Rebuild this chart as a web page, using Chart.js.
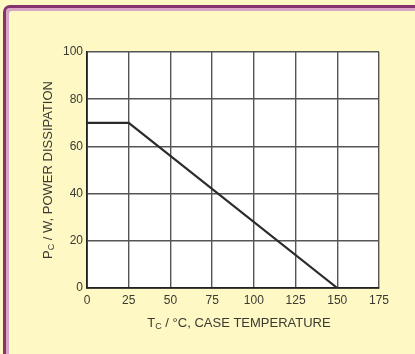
<!DOCTYPE html>
<html>
<head>
<meta charset="utf-8">
<script src="https://cdn.jsdelivr.net/npm/chart.js@4.4.0/dist/chart.umd.min.js"></script>
<style>
  html, body { margin: 0; padding: 0; }
  body { width: 415px; height: 354px; overflow: hidden; background: #fdf8c4; position: relative; }
  #frame {
    position: absolute; left: 3px; top: 5px; width: 430px; height: 370px;
    border: 3px solid #84336f; border-radius: 7px;
    box-shadow: inset 2px 2px 0 1px #d9a6c6;
  }
  #chart { position: absolute; left: 0; top: 0; }
</style>
</head>
<body>
<div id="frame"></div>
<canvas id="chart" width="415" height="354"></canvas>
<script>
// derating curve: case temperature (°C) vs allowed power (W)
var caseTemp = [0, 25, 150];
var powerW = [70, 70, 0];
var xTicks = [0, 25, 50, 75, 100, 125, 150, 175];
var yTicks = [0, 20, 40, 60, 80, 100];

var xTitle = ["T", "C", " / °C, CASE TEMPERATURE"];
var yTitle = ["P", "C", " / W, POWER DISSIPATION"];

var points = [];
for (var i = 0; i < caseTemp.length; i++) {
  points.push({ x: caseTemp[i], y: powerW[i] });
}

var FONT = '"Liberation Sans", Arial, sans-serif';
var TEXT = "#3a3a32";

// text with a subscript second part, drawn centred on (cx, cy)
function subText(ctx, parts, cx, cy) {
  ctx.font = "13px " + FONT;
  var w1 = ctx.measureText(parts[0]).width;
  var w3 = ctx.measureText(parts[2]).width;
  ctx.font = "9px " + FONT;
  var w2 = ctx.measureText(parts[1]).width;
  var x = cx - (w1 + w2 + w3) / 2;
  ctx.textBaseline = "middle";
  ctx.textAlign = "left";
  ctx.font = "13px " + FONT;
  ctx.fillText(parts[0], x, cy);
  ctx.font = "9px " + FONT;
  ctx.fillText(parts[1], x + w1, cy + 4);
  ctx.font = "13px " + FONT;
  ctx.fillText(parts[2], x + w1 + w2, cy);
}

var plotBg = {
  id: "plotBg",
  beforeDraw: function (chart) {
    var a = chart.chartArea, ctx = chart.ctx;
    ctx.save();
    ctx.fillStyle = "#ffffff";
    ctx.fillRect(a.left, a.top, a.right - a.left, a.bottom - a.top);
    ctx.restore();
  }
};

var axisTitles = {
  id: "axisTitles",
  afterDraw: function (chart) {
    var a = chart.chartArea, ctx = chart.ctx;
    ctx.save();
    ctx.fillStyle = TEXT;
    subText(ctx, xTitle, 239, 323);
    ctx.translate(48, (a.top + a.bottom) / 2);
    ctx.rotate(-Math.PI / 2);
    subText(ctx, yTitle, 0, 0);
    ctx.restore();
  }
};

new Chart(document.getElementById("chart"), {
  type: "scatter",
  data: {
    datasets: [{
      data: points,
      showLine: true,
      borderColor: "#2b2b2b",
      borderWidth: 2.2,
      pointRadius: 0,
      fill: false
    }]
  },
  options: {
    responsive: false,
    animation: false,
    layout: { padding: { left: 0, right: 36, top: 52, bottom: 0 } },
    plugins: { legend: { display: false }, tooltip: { enabled: false } },
    scales: {
      x: {
        type: "linear",
        min: 0, max: 175,
        afterBuildTicks: function (s) { s.ticks = xTicks.map(function (v) { return { value: v }; }); },
        afterFit: function (s) { s.height = 66; },
        grid: { color: "#555555", lineWidth: 1.4, drawTicks: false },
        border: { color: "#222222", width: 1.8 },
        ticks: { color: TEXT, font: { family: FONT, size: 12 }, padding: 5, maxRotation: 0 }
      },
      y: {
        type: "linear",
        min: 0, max: 100,
        afterBuildTicks: function (s) { s.ticks = yTicks.map(function (v) { return { value: v }; }); },
        afterFit: function (s) { s.width = 87; },
        grid: { color: "#555555", lineWidth: 1.4, drawTicks: false },
        border: { color: "#222222", width: 1.8 },
        ticks: { color: TEXT, font: { family: FONT, size: 12 }, padding: 4 }
      }
    }
  },
  plugins: [plotBg, axisTitles]
});
</script>
</body>
</html>
